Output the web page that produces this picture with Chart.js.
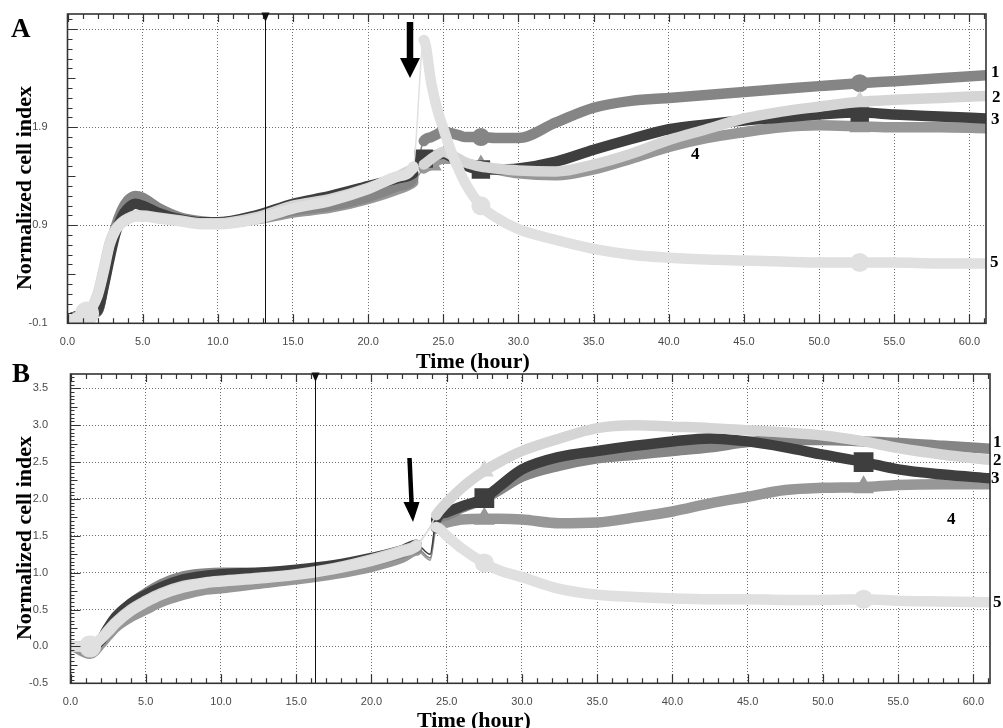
<!DOCTYPE html>
<html><head><meta charset="utf-8">
<script src="https://cdn.jsdelivr.net/npm/chart.js@4.4.1/dist/chart.umd.min.js"></script>
<style>
html,body{margin:0;padding:0;background:#fff;}
#wrap{position:relative;width:1003px;height:728px;overflow:hidden;}
canvas{position:absolute;left:0;top:0;}
</style></head>
<body><div id="wrap"><canvas id="cA" width="1003" height="728"></canvas><canvas id="cB" width="1003" height="728"></canvas></div>
<script>
// ===== DATA: panel A =====
const hoursA = [0.2,1.3,2.0,2.4,2.8,3.2,3.6,4.0,4.5,5.0, 6.0,7.5,9.0,10.0,12.5,15.0,17.5,20.0,22.0,23.0,
  23.7,24.2,24.6,25.0,25.5,26.0,26.5,27.5,28.5,30.0, 32.5,35.0,37.5,40.0,42.5,45.0,47.5,50.0,52.7,55.0, 58.0,61.1];
const s1A = [-0.05,0.0,0.02,0.3,0.62,0.88,1.05,1.15,1.2,1.18, 1.08,0.98,0.94,0.93,0.97,1.05,1.1,1.19,1.3,1.38,
  1.76,1.8,1.83,1.86,1.84,1.82,1.8,1.8,1.79,1.79, 1.95,2.1,2.17,2.2,2.23,2.26,2.29,2.32,2.35,2.37, 2.4,2.43];
const s2A = [-0.05,0.0,0.2,0.45,0.72,0.86,0.93,0.97,1.0,1.0, 0.98,0.95,0.92,0.92,0.98,1.1,1.17,1.28,1.4,1.48,
  1.52,1.58,1.62,1.65,1.62,1.58,1.54,1.5,1.48,1.46, 1.45,1.52,1.63,1.77,1.88,1.99,2.06,2.11,2.16,2.18, 2.2,2.22];
const s3A = [-0.05,0.0,0.03,0.27,0.56,0.82,0.98,1.07,1.12,1.1, 1.03,0.96,0.93,0.93,1.0,1.12,1.2,1.3,1.38,1.43,
  1.58,1.6,1.62,1.63,1.6,1.56,1.51,1.47,1.47,1.48, 1.55,1.67,1.78,1.88,1.93,1.97,2.0,2.03,2.05,2.03, 2.01,1.99];
const s4A = [-0.05,0.0,0.02,0.28,0.6,0.86,1.03,1.13,1.18,1.16, 1.06,0.97,0.93,0.92,0.96,1.03,1.08,1.17,1.27,1.34,
  1.48,1.52,1.56,1.58,1.58,1.56,1.53,1.5,1.47,1.43, 1.41,1.47,1.58,1.7,1.79,1.85,1.9,1.92,1.91,1.9, 1.9,1.89];
const s5A = [-0.05,0.0,0.18,0.42,0.7,0.85,0.92,0.96,0.99,0.99, 0.97,0.94,0.91,0.91,0.96,1.07,1.15,1.27,1.4,1.5,
  2.79,2.35,2.08,1.89,1.66,1.48,1.32,1.1,0.98,0.86, 0.75,0.66,0.6,0.57,0.55,0.54,0.53,0.52,0.52,0.52, 0.51,0.51];
const yTicksA = [-0.1,0.9,1.9,2.9];
const yTickLabelsA = ['-0.1','0.9','1.9',''];

// ===== DATA: panel B =====
const hoursB = [0.2,1.3,2.0,2.5,3.0,4.0,5.0,6.0,7.5,9.0, 10.0,12.5,15.0,17.5,20.0,22.0,23.0,23.9,
  24.3,25.0,26.0,27.5,28.5,30.0,32.5,35.0,37.5,40.0, 42.5,45.0,47.5,50.0,52.7,55.0,58.0,61.1];
const s1B = [0.0,0.0,0.08,0.25,0.38,0.58,0.72,0.84,0.95,0.99, 1.0,1.0,1.03,1.08,1.16,1.26,1.33,1.2,
  1.7,1.78,1.88,2.0,2.12,2.3,2.45,2.55,2.6,2.65, 2.7,2.77,2.8,2.8,2.78,2.76,2.72,2.68];
const s2B = [0.0,0.0,0.1,0.22,0.33,0.5,0.62,0.72,0.82,0.87, 0.89,0.93,0.98,1.06,1.18,1.3,1.38,1.62,
  1.78,1.95,2.15,2.38,2.5,2.65,2.82,2.96,3.0,2.98, 2.96,2.93,2.9,2.86,2.78,2.69,2.6,2.53];
const s3B = [0.0,0.0,0.08,0.25,0.4,0.58,0.7,0.8,0.91,0.96, 0.98,1.0,1.04,1.1,1.2,1.3,1.38,1.25,
  1.72,1.82,1.9,2.01,2.17,2.4,2.57,2.65,2.72,2.78, 2.82,2.78,2.7,2.6,2.5,2.4,2.33,2.28];
const s4B = [0.0,-0.1,0.03,0.15,0.26,0.4,0.5,0.6,0.7,0.77, 0.79,0.85,0.91,0.98,1.08,1.2,1.3,1.17,
  1.6,1.68,1.72,1.73,1.73,1.72,1.67,1.68,1.75,1.83, 1.94,2.03,2.12,2.15,2.16,2.19,2.2,2.2];
const s5B = [0.0,0.0,0.1,0.2,0.31,0.48,0.6,0.7,0.8,0.86, 0.88,0.92,0.97,1.05,1.16,1.28,1.36,1.6,
  1.62,1.5,1.33,1.13,1.03,0.94,0.78,0.7,0.67,0.65, 0.64,0.64,0.63,0.63,0.64,0.62,0.61,0.6];
const yTicksB = [-0.5,0.0,0.5,1.0,1.5,2.0,2.5,3.0,3.5];
const yTickLabelsB = ['-0.5','0.0','0.5','1.0','1.5','2.0','2.5','3.0','3.5'];

const seriesNames = ['1','2','3','4','5'];
const xTitle = 'Time (hour)';
const yTitle = 'Normalized cell index';

// ===== styles =====
const LW = 10.5;
const COL = {s1:'#858585', s2:'#d5d5d5', s3:'#3e3e3e', s4:'#979797', s5:'#e0e0e0'};

function makeDataset(label, hours, vals, st, thinFrom, thinTo) {
  return {
    label, order: st.order,
    data: hours.map((h,i)=>({x:h, y:vals[i]})),
    borderColor: st.color, backgroundColor: st.color,
    borderWidth: LW, borderCapStyle:'round', borderJoinStyle:'round',
    cubicInterpolationMode:'monotone', fill:false,
    pointBorderWidth:0, pointBackgroundColor: st.color,
    pointStyle: c => { const i=c.dataIndex; if(i===0) return 'rect'; if(i===1) return st.startStyle||'rect';
      const h=hours[i]; if((st.dots||[]).includes(h) && !(st.marks||[]).includes(h)) return 'circle'; return st.pointStyle; },
    pointRadius: c => { const i=c.dataIndex; const h=hours[i];
      if(i===0) return 6; if(i===1) return st.startR||6;
      if((st.marks||[]).includes(h)) return st.markR;
      if((st.dots||[]).includes(h)) return 4.5;
      return 0; },
    pointHoverRadius: 0,
    segment: { borderWidth: c => (c.p0.parsed.x >= thinFrom && c.p1.parsed.x <= thinTo) ? 1.5 : LW }
  };
}

function decoPlugin(p) {
  return {
    id: 'deco' + p.id,
    afterDatasetsDraw(chart) {
      const ctx = chart.ctx, a = chart.chartArea, x = chart.scales.x, y = chart.scales.y;
      ctx.save();
      const vx = Math.round(x.getPixelForValue(p.lineHour)) + 0.5;
      ctx.strokeStyle = '#111'; ctx.lineWidth = 1;
      ctx.beginPath(); ctx.moveTo(vx, a.top); ctx.lineTo(vx, a.bottom); ctx.stroke();
      ctx.strokeStyle = '#333'; ctx.lineWidth = 1.2;
      ctx.beginPath();
      for (let h = 0; h <= Math.floor(x.max); h++) {
        const px = Math.round(x.getPixelForValue(h)) + 0.5;
        const len = h % 5 === 0 ? 9 : 5;
        ctx.moveTo(px, a.bottom); ctx.lineTo(px, a.bottom - len);
        ctx.moveTo(px, a.top); ctx.lineTo(px, a.top + (h % 5 === 0 ? 8 : 5));
      }
      const n = Math.round((y.max - y.min) / p.yMinor);
      for (let k = 0; k <= n; k++) {
        const v = y.min + k * p.yMinor;
        if (v > y.max) break;
        const py = Math.round(y.getPixelForValue(v)) + 0.5;
        let len = p.yMinorLen;
        if (k % p.yMidEvery === 0) len = p.yMidLen;
        if (k % p.yMajorEvery === 0) len = 10;
        ctx.moveTo(a.left, py); ctx.lineTo(a.left + len, py);
      }
      ctx.stroke();
      ctx.strokeStyle = '#333'; ctx.lineWidth = 1.6;
      ctx.strokeRect(a.left, a.top, a.right - a.left, a.bottom - a.top);
      ctx.fillStyle = '#111';
      ctx.beginPath(); ctx.moveTo(vx - 4, a.top - 1.5); ctx.lineTo(vx + 4, a.top - 1.5); ctx.lineTo(vx, a.top + 8); ctx.closePath(); ctx.fill();
      ctx.restore();
    },
    afterDraw(chart) {
      const ctx = chart.ctx;
      ctx.save();
      ctx.fillStyle = '#000';
      ctx.font = 'bold 27px "Liberation Serif"';
      ctx.textAlign = 'left'; ctx.textBaseline = 'alphabetic';
      ctx.fillText(p.letter, p.letterX, p.letterY);
      ctx.font = 'bold 22px "Liberation Serif"';
      ctx.textAlign = 'center';
      ctx.fillText(xTitle, p.xTitleX, p.xTitleY);
      ctx.save();
      ctx.translate(p.yTitleX, p.yTitleY); ctx.rotate(-Math.PI / 2);
      ctx.fillText(yTitle, 0, 0);
      ctx.restore();
      ctx.font = 'bold 17px "Liberation Serif"';
      ctx.textAlign = 'left'; ctx.textBaseline = 'middle';
      p.labels.forEach((q, i) => ctx.fillText(seriesNames[i], q[0], q[1]));
      const ar = p.arrow;
      ctx.beginPath();
      ctx.moveTo(ar.x0 - ar.sw/2, ar.y0); ctx.lineTo(ar.x0 + ar.sw/2, ar.y0);
      ctx.lineTo(ar.x1 + ar.sw/2, ar.y1); ctx.lineTo(ar.x1 + ar.hw/2, ar.y1);
      ctx.lineTo(ar.tx, ar.ty); ctx.lineTo(ar.x1 - ar.hw/2, ar.y1);
      ctx.lineTo(ar.x1 - ar.sw/2, ar.y1); ctx.closePath(); ctx.fill();
      ctx.restore();
    }
  };
}

function zeroPad(s) { s.paddingTop = 0; s.paddingBottom = 0; s.paddingLeft = 0; s.paddingRight = 0; }

function axisCfg(yTicks, yLabels, yMin, yMax, yWidth, xHeight, yPad) {
  const gridCol = '#707070';
  return {
    x: { type:'linear', min:0, max:61.1,
      afterFit: s => { s.height = xHeight; zeroPad(s); },
      ticks: { stepSize:5, includeBounds:false, autoSkip:false, maxRotation:0, padding:12,
        font:{family:'"Liberation Sans", Arial, sans-serif', size:11}, color:'#4a4a4a',
        callback: v => v.toFixed(1) },
      grid: { color:gridCol, lineWidth:1, drawTicks:false },
      border: { display:false, dash:[1,2] } },
    y: { type:'linear', min:yMin, max:yMax,
      afterFit: s => { s.width = yWidth; zeroPad(s); },
      afterBuildTicks: s => { s.ticks = yTicks.map(v => ({value:v})); },
      ticks: { padding:yPad, autoSkip:false,
        font:{family:'"Liberation Sans", Arial, sans-serif', size:11}, color:'#4a4a4a',
        callback: (v, i) => yLabels[i] },
      grid: { color:gridCol, lineWidth:1, drawTicks:false },
      border: { display:false, dash:[1,2] } }
  };
}

// ===== Panel A =====
const stA = {
  s1:{color:COL.s1, order:3, pointStyle:'circle', markR:9, marks:[27.5,52.7]},
  s2:{color:COL.s2, order:1, pointStyle:'triangle', markR:11, marks:[52.7]},
  s3:{color:COL.s3, order:2, pointStyle:'rect', markR:13, marks:[23.7,27.5,52.7]},
  s4:{color:COL.s4, order:4, pointStyle:'triangle', markR:12, marks:[24.2,27.5,52.7]},
  s5:{color:COL.s5, order:0, pointStyle:'circle', markR:9.5, marks:[27.5,52.7], startStyle:'circle', startR:12,
      dots:[23.7,24.2,24.6,25.0,25.5,26.0,26.5]}
};
new Chart(document.getElementById('cA'), {
  type:'line',
  data:{ datasets:[
    makeDataset('1', hoursA, s1A, stA.s1, 23.0, 23.7),
    makeDataset('2', hoursA, s2A, stA.s2, 23.0, 23.7),
    makeDataset('3', hoursA, s3A, stA.s3, 23.0, 23.7),
    makeDataset('4', hoursA, s4A, stA.s4, 23.0, 23.7),
    makeDataset('5', hoursA, s5A, stA.s5, 23.0, 23.7)
  ]},
  options:{ responsive:false, animation:false, events:[],
    layout:{ padding:{ left:0, top:14, right:17, bottom:0 } },
    scales: axisCfg(yTicksA, yTickLabelsA, -0.1, 3.056, 67.5, 728-323.3, 20),
    plugins:{ legend:{display:false}, tooltip:{enabled:false} } },
  plugins:[ decoPlugin({ id:'A', lineHour:13.15, yMinor:0.1, yMinorLen:5, yMidEvery:5, yMidLen:8, yMajorEvery:10,
    letter:'A', letterX:11, letterY:37, xTitleX:473, xTitleY:368, yTitleX:30.5, yTitleY:188,
    labels:[[991,73],[992,98],[991,120],[691,155],[990,263]],
    arrow:{x0:410, y0:22, x1:410, y1:58, sw:6.5, hw:20, tx:410, ty:78} }) ]
});

// ===== Panel B =====
const stB = {
  s1:{color:COL.s1, order:3, pointStyle:'circle', markR:8, marks:[]},
  s2:{color:COL.s2, order:1, pointStyle:'triangle', markR:11, marks:[27.5]},
  s3:{color:COL.s3, order:2, pointStyle:'rect', markR:14, marks:[27.5,52.7]},
  s4:{color:COL.s4, order:4, pointStyle:'triangle', markR:12, marks:[27.5,52.7]},
  s5:{color:COL.s5, order:0, pointStyle:'circle', markR:9.5, marks:[27.5,52.7], startStyle:'circle', startR:11}
};
new Chart(document.getElementById('cB'), {
  type:'line',
  data:{ datasets:[
    makeDataset('1', hoursB, s1B, stB.s1, 23.0, 24.3),
    makeDataset('2', hoursB, s2B, stB.s2, 23.0, 24.3),
    makeDataset('3', hoursB, s3B, stB.s3, 23.0, 24.3),
    makeDataset('4', hoursB, s4B, stB.s4, 23.0, 24.3),
    makeDataset('5', hoursB, s5B, stB.s5, 23.0, 24.3)
  ]},
  options:{ responsive:false, animation:false, events:[],
    layout:{ padding:{ left:0, top:374, right:13, bottom:0 } },
    scales: axisCfg(yTicksB, yTickLabelsB, -0.5, 3.694, 70.5, 728-683.3, 22.5),
    plugins:{ legend:{display:false}, tooltip:{enabled:false} } },
  plugins:[ decoPlugin({ id:'B', lineHour:16.25, yMinor:0.05, yMinorLen:4, yMidEvery:5, yMidLen:7, yMajorEvery:10,
    letter:'B', letterX:12, letterY:382, xTitleX:474, xTitleY:727, yTitleX:30.5, yTitleY:538,
    labels:[[993,443],[993,461],[991,479],[947,520],[993,603]],
    arrow:{x0:409.5, y0:458, x1:411.5, y1:502, sw:4.5, hw:16, tx:413, ty:522} }) ]
});
</script>
</body></html>
